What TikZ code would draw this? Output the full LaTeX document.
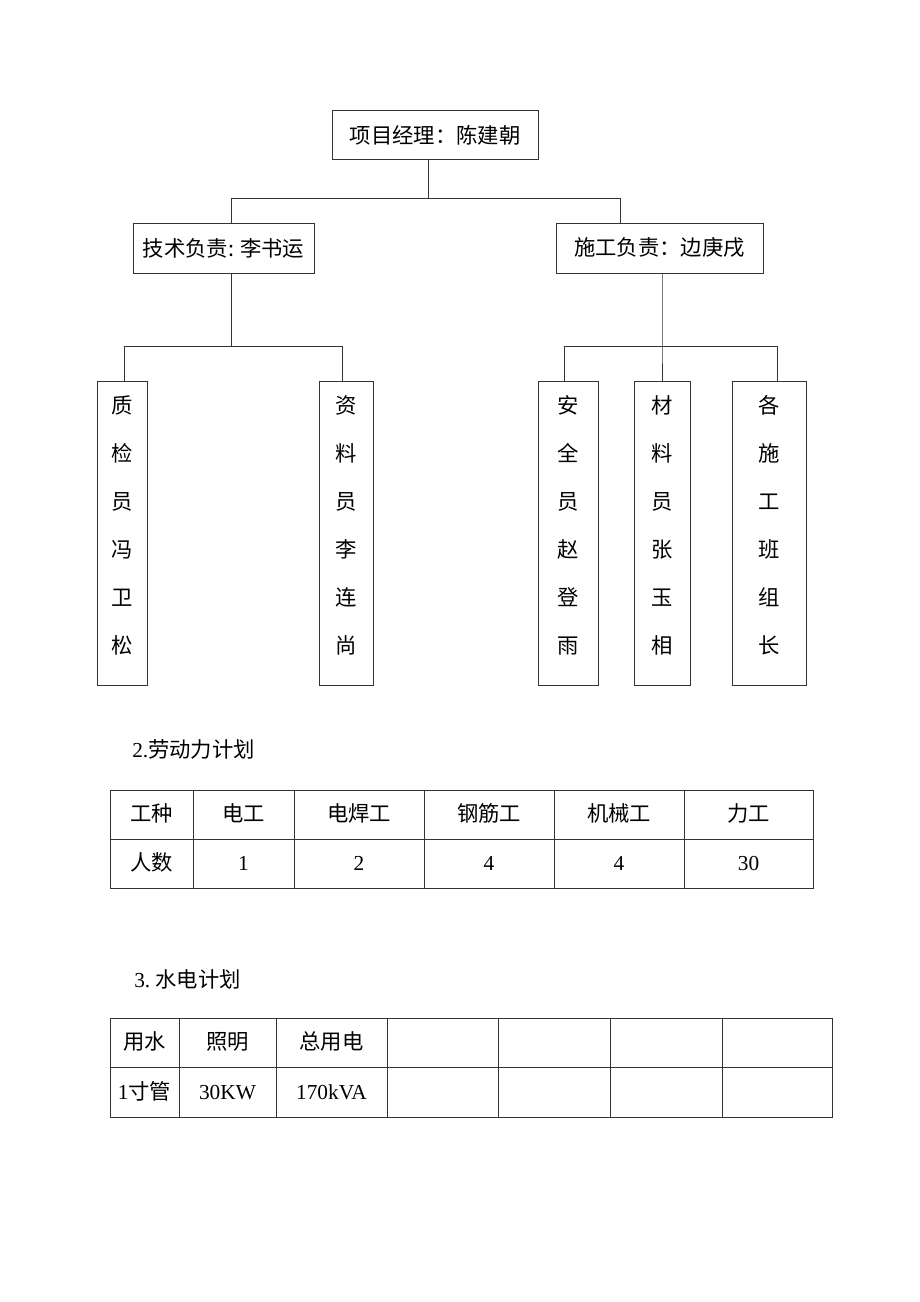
\documentclass[tikz,border=0pt]{standalone}
\usepackage{fontspec}
\setmainfont{Liberation Serif}
\newfontfamily\cjk{Noto Sans CJK SC}
\newcommand{\zh}[1]{{\cjk #1}}

\begin{document}
\begin{tikzpicture}[x=0.75pt, y=-0.75pt,
  link/.style={draw=black!80, line width=0.75pt},
  box/.style={draw=black!80, line width=0.75pt, inner sep=0pt,
    font=\cjk\fontsize{16pt}{18pt}\selectfont},
  vbox/.style={box, align=center, minimum height=228pt, text depth=12.5pt,
    font=\cjk\fontsize{16pt}{36pt}\selectfont},
  cell/.style={inner sep=0pt, text height=13pt, text depth=2pt,
    font=\fontsize{16pt}{18pt}\selectfont}]

%% page frame (reference size in px)
\useasboundingbox (0,0) rectangle (920,1302);

%% ============================================================
%% Organisation chart
%% ============================================================
\node[box, minimum width=154.5pt, minimum height=36.75pt] (pm) at (435,135.5)
  {项目经理：陈建朝};
\node[box, minimum width=135.75pt, minimum height=37.5pt] (tech) at (223.5,248)
  {技术负责: 李书运};
\node[box, minimum width=155.25pt, minimum height=37.5pt] (site) at (659.5,248)
  {施工负责：边庚戌};

%% ---- staff boxes (text set one character per line) ----
\node[vbox, minimum width=37.5pt] (qc)   at (122,533) {质\\检\\员\\冯\\卫\\松};
\node[vbox, minimum width=40.5pt] (doc)  at (346,533) {资\\料\\员\\李\\连\\尚};
\node[vbox, minimum width=45pt]   (safe) at (568,533) {安\\全\\员\\赵\\登\\雨};
\node[vbox, minimum width=42pt]   (mat)  at (662,533) {材\\料\\员\\张\\玉\\相};
\node[vbox, minimum width=55.5pt] (crew) at (769,533) {各\\施\\工\\班\\组\\长};

%% ---- connectors ----
\coordinate (bus) at (428,198);
\coordinate (tl)  at (231,198);
\coordinate (tr)  at (620,198);
\draw[link] (pm.south -| bus) -- (bus);
\draw[link] (tech.north -| tl) -- (tl) -- (tr) -- (site.north -| tr);

% left branch
\coordinate (lc) at (231,346);
\coordinate (ll) at (124,346);
\coordinate (lr) at (342,346);
\draw[link] (tech.south -| lc) -- (lc);
\draw[link] (qc.north -| ll) -- (ll) -- (lr) -- (doc.north -| lr);

% right branch
\coordinate (rc) at (662,346);
\coordinate (rl) at (564,346);
\coordinate (rr) at (777,346);
\draw[link] (site.south -| rc) -- (rc) -- (mat.north);
\draw[link] (safe.north -| rl) -- (rl) -- (rr) -- (crew.north -| rr);

%% ============================================================
%% 2. labour plan
%% ============================================================
\node[cell, anchor=west] (hlab) at (132,750) {2.\zh{劳动力计划}};

\draw[link] (110,790) rectangle (813,888);
\draw[link] (110,839) -- (813,839);
\foreach \x in {193,294,424,554,684}
  \draw[link] (\x,790) -- (\x,888);

\foreach \x/\a/\b [count=\i] in {151.5/\zh{工种}/\zh{人数}, 243.5/\zh{电工}/1,
    359/\zh{电焊工}/2, 489/\zh{钢筋工}/4, 619/\zh{机械工}/4, 748.5/\zh{力工}/30} {
  \node[cell] (lab\i a) at (\x,814.5) {\a};
  \node[cell] (lab\i b) at (\x,863.5) {\b};
}

%% ============================================================
%% 3. water / power plan
%% ============================================================
\node[cell, anchor=west] (hwp) at (134,980) {3.\ \zh{水电计划}};

\draw[link] (110,1018) rectangle (832,1117);
\draw[link] (110,1067) -- (832,1067);
\foreach \x in {179,276,387,498,610,722}
  \draw[link] (\x,1018) -- (\x,1117);

\foreach \x/\a/\b [count=\i] in {144.5/\zh{用水}/1\zh{寸管},
    227.5/\zh{照明}/30KW, 331.5/\zh{总用电}/170kVA} {
  \node[cell] (wp\i a) at (\x,1042.5) {\a};
  \node[cell] (wp\i b) at (\x,1092) {\b};
}

\end{tikzpicture}
\end{document}
